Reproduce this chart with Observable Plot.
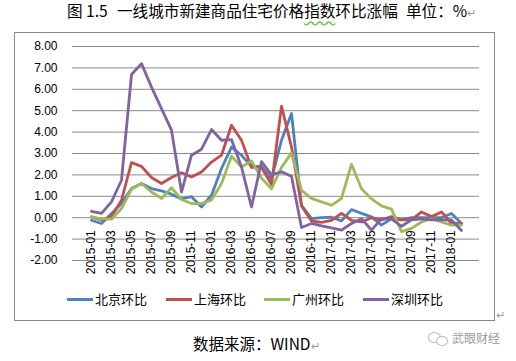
<!DOCTYPE html>
<html><head><meta charset="utf-8">
<script src="https://cdn.jsdelivr.net/npm/d3@7"></script>
<script src="https://cdn.jsdelivr.net/npm/@observablehq/plot@0.6"></script>
<style>
html,body{margin:0;padding:0;background:#fff}
body{width:516px;height:361px;position:relative;overflow:hidden;font-family:"Noto Sans CJK SC","Noto Sans",sans-serif;color:#000}
.abs{position:absolute;white-space:pre}
#frame{position:absolute;left:14px;top:32px;width:479px;height:287px;border:1px solid #888}
#chart{position:absolute;left:0;top:0}
.pm{color:#999;font-size:11px}
.leg{position:absolute;top:291px;height:16px;line-height:16px;font-size:13px}
.leg i{position:absolute;top:7px;height:3px;width:26px}
.leg span{position:absolute;left:28px;white-space:pre}
</style></head><body>
<div id="frame"></div>
<div id="chart"></div>
<div class="abs" style="left:67px;top:0px;font-size:15.6px;line-height:20px">图 1.5</div>
<div class="abs" id="t2" style="left:117px;top:0px;font-size:15.6px;line-height:20px"></div>
<div class="abs" style="left:406px;top:0px;font-size:15.6px;line-height:20px">单位：%<span class="pm">↵</span></div>
<div id="legend"></div>
<div class="abs" style="left:193px;top:333px;font-size:15.5px;line-height:20px">数据来源：WIND<span class="pm">↵</span></div>
<div class="abs pm" style="left:496px;top:306px">↵</div>
<div style="position:absolute;left:428px;top:332px;width:11px;height:9px;border:1px solid #bbb;border-radius:50%"></div>
<div style="position:absolute;left:436px;top:336px;width:10px;height:8px;border:1px solid #bbb;border-radius:50%;background:#fff"></div>
<div class="abs" style="left:452px;top:330px;font-size:12px;line-height:16px;color:#9a9a9a">武眼财经</div>
<script>
const titleText = "一线城市新建商品住宅价格指数环比涨幅";
const months = ["2015-01","2015-02","2015-03","2015-04","2015-05","2015-06","2015-07","2015-08","2015-09","2015-10","2015-11","2015-12",
"2016-01","2016-02","2016-03","2016-04","2016-05","2016-06","2016-07","2016-08","2016-09","2016-10","2016-11","2016-12",
"2017-01","2017-02","2017-03","2017-04","2017-05","2017-06","2017-07","2017-08","2017-09","2017-10","2017-11","2017-12",
"2018-01","2018-02"];
const tickLabels = ["2015-01","2015-03","2015-05","2015-07","2015-09","2015-11","2016-01","2016-03","2016-05","2016-07","2016-09","2016-11","2017-01","2017-03","2017-05","2017-07","2017-09","2017-11","2018-01"];
const yTicks = [-2,-1,0,1,2,3,4,5,6,7,8];
const cities = ["北京环比","上海环比","广州环比","深圳环比"];
const colors = ["#4F81BD","#C0504D","#9BBB59","#8064A2"];
const beijing = [-0.12,-0.27,0.2,0.66,1.36,1.6,1.36,1.25,1.1,0.88,0.98,0.5,1.05,2.3,3.3,2.92,2.4,2.4,1.8,3.62,4.87,0.58,-0.04,0.0,0.02,-0.15,0.38,0.2,0.04,-0.35,-0.04,-0.1,0.0,0.0,0.0,0.0,0.2,-0.27];
const shanghai = [0.04,-0.1,0.04,0.82,2.58,2.4,1.88,1.6,1.88,2.1,1.9,2.14,2.6,2.92,4.32,3.62,2.35,2.35,1.55,5.21,3.3,0.55,-0.15,-0.22,-0.12,0.2,-0.12,-0.2,0.0,-0.1,0.05,-0.1,-0.1,0.27,0.05,0.27,-0.27,-0.27];
const guangzhou = [0.04,-0.05,-0.07,0.43,1.33,1.6,1.2,0.9,1.4,0.85,0.66,0.66,0.82,1.6,2.87,2.37,2.65,1.85,1.35,2.35,3.03,1.28,0.9,0.74,0.58,0.9,2.5,1.35,0.88,0.55,0.4,-0.65,-0.5,-0.2,-0.05,-0.2,-0.35,-0.35];
const shenzhen = [0.3,0.2,0.74,1.75,6.69,7.2,6.1,5.1,4.09,1.2,2.92,3.2,4.12,3.62,3.65,2.37,0.5,2.62,2.0,2.14,1.94,-0.46,-0.27,-0.38,-0.48,-0.58,-0.27,-0.05,-0.58,-0.04,-0.05,-0.4,-0.1,-0.05,-0.1,-0.1,-0.1,-0.6];

document.getElementById("t2").textContent = titleText;
const t2 = document.getElementById("t2");
t2.innerHTML = "一线城市新建商品住宅价格<span style=\"text-decoration:underline wavy #7cbf4c;text-underline-offset:3px\">指数</span>环比涨幅";

const series = [beijing, shanghai, guangzhou, shenzhen];
const data = [];
series.forEach((vals, k) => vals.forEach((v, i) => data.push({month: months[i], value: v, city: cities[k]})));

const chart = Plot.plot({
  width: 516, height: 361,
  marginLeft: 72, marginRight: 37, marginTop: 46, marginBottom: 101,
  style: {background: "transparent", fontFamily: "Liberation Sans, Arial, sans-serif"},
  x: {type: "point", domain: months, padding: 0.5, axis: null},
  y: {domain: [-2, 8], axis: null},
  color: {domain: cities, range: colors},
  marks: [
    Plot.gridY(yTicks, {stroke: "#8a8a8a", strokeOpacity: 1, strokeWidth: 1}),
    Plot.axisY(yTicks, {tickSize: 0, tickPadding: 15, tickFormat: d => d.toFixed(2), fontSize: 12, fill: "#000", label: null}),
    Plot.text(tickLabels, {x: d => d, y: () => 0, text: d => d, rotate: -90, textAnchor: "end", lineAnchor: "middle", dy: 12.5, fontSize: 12, fill: "#000"}),
    Plot.line(data, {x: "month", y: "value", z: "city", stroke: "city", strokeWidth: 2.8, strokeLinejoin: "round", strokeLinecap: "round"})
  ]
});
document.getElementById("chart").appendChild(chart);

const legendX = [67, 166, 264, 363];
const legend = document.getElementById("legend");
cities.forEach((c, k) => {
  const d = document.createElement("div");
  d.className = "leg";
  d.style.left = legendX[k] + "px";
  d.innerHTML = `<i style="background:${colors[k]}"></i><span>${c}</span>`;
  legend.appendChild(d);
});
</script>
</body></html>
